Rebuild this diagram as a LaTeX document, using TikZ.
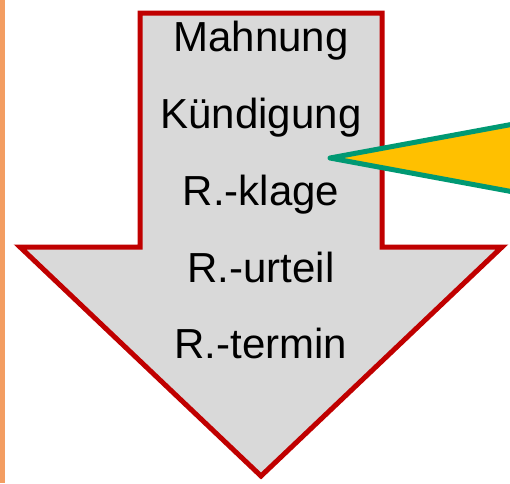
\documentclass[tikz,border=0pt]{standalone}
\usepackage{fontspec}
\setmainfont{Liberation Sans}
\definecolor{arrowred}{RGB}{192,0,0}
\definecolor{arrowgray}{RGB}{217,217,217}
\definecolor{strip}{RGB}{243,157,98}
\definecolor{callyellow}{RGB}{255,192,0}
\definecolor{callgreen}{RGB}{0,153,115}
\begin{document}
\begin{tikzpicture}[x=1pt,y=-1pt,
  stage/.style={anchor=base,inner sep=0pt,font=\fontsize{42}{50}\selectfont},
  bigarrow/.style={draw=arrowred,fill=arrowgray,line width=5pt,line join=miter},
  pointer/.style={draw=callgreen,fill=callyellow,line width=5pt,line join=round}]
\useasboundingbox (0,0) rectangle (510,483);
\fill[strip] (0,0) rectangle (4.5,483);
\draw[bigarrow] (140,13) -- (382,13) -- (382,247) -- (502,247) -- (261,476)
  -- (20,247) -- (140,247) -- cycle;
\node[stage] (mahnung) at (261,51) {Mahnung};
\node[stage] (kuendigung) at (261,128) {Kündigung};
\node[stage] (klage) at (261,205) {R.-klage};
\node[stage] (urteil) at (261,282) {R.-urteil};
\node[stage] (termin) at (261,358) {R.-termin};
\begin{scope}
\clip (0,0) rectangle (510,483);
\draw[pointer] (330,158) -- (530,121) -- (530,195) -- cycle;
\end{scope}
\end{tikzpicture}
\end{document}
